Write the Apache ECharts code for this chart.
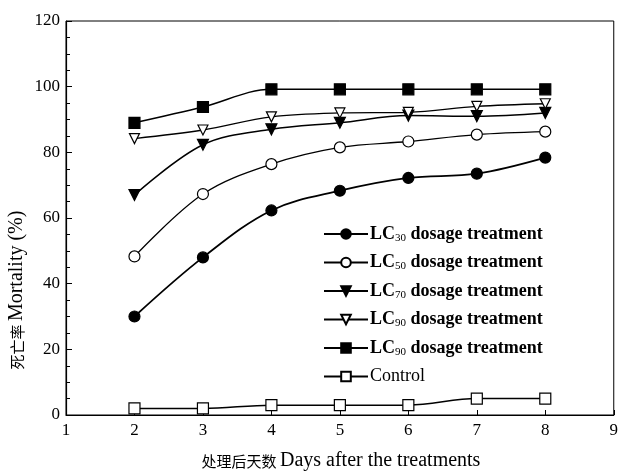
<!DOCTYPE html>
<html><head><meta charset="utf-8">
<script src="https://cdn.jsdelivr.net/npm/echarts@6/dist/echarts.min.js"></script>
<style>html,body{margin:0;padding:0;background:#fff}#c{width:621px;height:471px}</style>
</head><body><div id="c"></div>
<script>
const days = [2, 3, 4, 5, 6, 7, 8];
const lc30 = [30, 48, 62.3, 68.3, 72.2, 73.5, 78.4];
const lc50 = [48.3, 67.3, 76.4, 81.5, 83.3, 85.4, 86.3];
const lc70 = [67, 82.3, 87, 89, 91.2, 91, 92];
const lc90a = [84.2, 86.8, 90.8, 92, 92.2, 94, 94.8];
const lc90b = [89, 93.8, 99.2, 99.2, 99.2, 99.2, 99.2];
const control = [2, 2, 3, 3, 3, 5, 5];
const seriesNames = ['LC30', 'LC50', 'LC70', 'LC90a', 'LC90b', 'Control'];
const legendLabels = ['LC{s|30} dosage treatment', 'LC{s|50} dosage treatment', 'LC{s|70} dosage treatment', 'LC{s|90} dosage treatment', 'LC{s|90} dosage treatment', '{r|Control}'];
const xTitleZh = '处理后天数';
const xTitleEn = 'Days after the treatments';
const yTitleZh = '死亡率';
const yTitleEn = 'Mortality (%)';

const serif = '"Liberation Serif","DejaVu Serif",serif';
const downTri = 'path://M0,0 L10,0 L5,9 Z';
function pts(arr){ return days.map((d,i)=>[d, arr[i]]); }
function mk(name, data, symbol, fill, size, lw){
  return {
    name: name, type: 'line', data: pts(data), smooth: 0.35,
    symbol: symbol, symbolSize: size,
    lineStyle: {color: '#000', width: lw},
    itemStyle: {color: fill, borderColor: '#000', borderWidth: 1.2},
    emphasis: {disabled: true}
  };
}
const chart = echarts.init(document.getElementById('c'));
chart.setOption({
  animation: false,
  backgroundColor: '#fff',
  grid: {left: 66, right: 6, top: 21, bottom: 56, show: true, borderColor: '#000', borderWidth: 1},
  xAxis: {
    type: 'value', min: 1, max: 9, interval: 1,
    axisLine: {lineStyle: {color: '#000', width: 1.2}},
    axisTick: {inside: true, length: 5, lineStyle: {color: '#000'}},
    axisLabel: {color: '#000', fontFamily: serif, fontSize: 17, margin: 7},
    splitLine: {show: false}
  },
  yAxis: {
    type: 'value', min: 0, max: 120, interval: 20,
    axisLine: {show: true, lineStyle: {color: '#000', width: 1.2}},
    axisTick: {inside: true, length: 6, lineStyle: {color: '#000'}},
    minorTick: {show: true, splitNumber: 4, length: 4, lineStyle: {color: '#000'}},
    axisLabel: {color: '#000', fontFamily: serif, fontSize: 17, margin: 6},
    splitLine: {show: false}
  },
  legend: {
    orient: 'vertical', left: 318, top: 220, itemWidth: 44, itemHeight: 12, itemGap: 10,
    formatter: function(n){ return legendLabels[seriesNames.indexOf(n)]; },
    textStyle: {color: '#000', fontFamily: serif, fontSize: 18, fontWeight: 'bold', padding: [0,0,0,-3],
      rich: {
        s: {fontFamily: serif, fontSize: 11, fontWeight: 'normal', padding: [8,0,0,0], color: '#000'},
        r: {fontFamily: serif, fontSize: 18, fontWeight: 'normal', color: '#000'}
      }}
  },
  graphic: [
    {type: 'text', x: 341, y: 461, style: {
      text: '{c|' + xTitleZh + '} {e|' + xTitleEn + '}', align: 'center', verticalAlign: 'middle',
      rich: {c: {font: '15px "Noto Sans CJK SC",' + serif, fill: '#000'}, e: {font: '20px ' + serif, fill: '#000'}}
    }},
    {type: 'text', rotation: Math.PI/2, x: 17, y: 290, style: {
      text: '{c|' + yTitleZh + '} {e|' + yTitleEn + '}', align: 'center', verticalAlign: 'middle',
      rich: {c: {font: '15px "Noto Sans CJK SC",' + serif, fill: '#000'}, e: {font: '20px ' + serif, fill: '#000'}}
    }}
  ],
  series: [
    mk('LC30', lc30, 'circle', '#000', 11, 1.8),
    mk('LC50', lc50, 'circle', '#fff', 11, 1.3),
    mk('LC70', lc70, downTri, '#000', 11, 1.5),
    mk('LC90a', lc90a, downTri, '#fff', 10, 1.3),
    mk('LC90b', lc90b, 'rect', '#000', 11, 1.5),
    mk('Control', control, 'rect', '#fff', 11, 1.5)
  ]
});
</script></body></html>
